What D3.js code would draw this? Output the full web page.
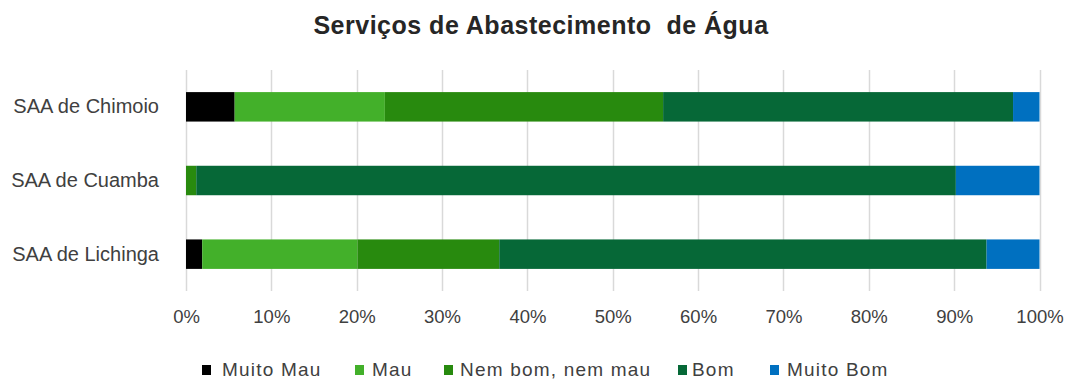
<!DOCTYPE html>
<html>
<head>
<meta charset="utf-8">
<script src="https://cdn.jsdelivr.net/npm/d3@7/dist/d3.min.js"></script>
<style>
  html, body { margin: 0; padding: 0; background: #fff; }
  svg text { font-family: "Liberation Sans", Arial, sans-serif; }
</style>
</head>
<body>
<svg id="chart" width="1068" height="383"></svg>
<script>
// Survey results per water supply system (percent of responses)
const categories = ["SAA de Chimoio", "SAA de Cuamba", "SAA de Lichinga"];
const seriesNames = ["Muito Mau", "Mau", "Nem bom, nem mau", "Bom", "Muito Bom"];
const muitoMau  = [5.7, 0.0, 1.9];
const mau       = [17.6, 0.0, 18.2];
const nemBom    = [32.6, 1.2, 16.6];
const bom       = [41.0, 89.0, 57.1];
const muitoBom  = [3.1, 9.8, 6.2];
const tickValues = [0, 10, 20, 30, 40, 50, 60, 70, 80, 90, 100];
const colors = ["#000000", "#43b02a", "#288a0e", "#066837", "#0070c0"];

const seriesValues = [muitoMau, mau, nemBom, bom, muitoBom];
const rows = categories.map((c, i) => {
  const r = { cat: c };
  seriesNames.forEach((s, k) => { r[s] = seriesValues[k][i]; });
  return r;
});

const svg = d3.select("#chart");
const margin = { left: 186, right: 28, top: 70, bottom: 92 };
const W = 1068, H = 383;
const textColor = "#404040";

const x = d3.scaleLinear().domain([0, 100]).range([margin.left, W - margin.right - 0.5]);
const y = d3.scaleBand().domain(categories).range([margin.top, H - margin.bottom]).paddingInner(0.6).paddingOuter(0.3);

// vertical gridlines
svg.append("g").selectAll("line").data(tickValues).join("line")
  .attr("x1", d => Math.round(x(d)) + 0.5).attr("x2", d => Math.round(x(d)) + 0.5)
  .attr("y1", margin.top).attr("y2", H - margin.bottom)
  .attr("stroke", "#d9d9d9").attr("stroke-width", 1.5);

// stacked bars
const stack = d3.stack().keys(seriesNames)(rows);
svg.append("g").selectAll("g").data(stack).join("g")
  .attr("fill", (d, i) => colors[i])
  .selectAll("rect").data(d => d).join("rect")
  .attr("x", d => x(d[0]))
  .attr("width", d => Math.max(0, x(d[1]) - x(d[0])))
  .attr("y", d => y(d.data.cat))
  .attr("height", y.bandwidth());

// x axis labels
const xAxis = d3.axisBottom(x).tickValues(tickValues).tickFormat(d => d + "%").tickSize(0).tickPadding(0);
const gx = svg.append("g").attr("transform", `translate(0, 310)`).call(xAxis);
gx.select(".domain").remove();
gx.selectAll("text").attr("font-size", 18.5).attr("fill", textColor)
  .style("font-family", '"Liberation Sans", Arial, sans-serif');

// y axis labels
const yAxis = d3.axisLeft(y).tickSize(0).tickPadding(27);
const gy = svg.append("g").attr("transform", `translate(${margin.left}, 0)`).call(yAxis);
gy.select(".domain").remove();
gy.selectAll("text").attr("font-size", 20).attr("fill", textColor)
  .style("font-family", '"Liberation Sans", Arial, sans-serif');

// title
svg.append("text").attr("x", 541).attr("y", 34).attr("text-anchor", "middle")
  .attr("font-size", 25).attr("font-weight", "bold").attr("fill", "#262626")
  .attr("letter-spacing", 0.5)
  .attr("xml:space", "preserve")
  .text("Serviços de Abastecimento  de Água");

// legend
const legendX = [202, 355, 444, 678, 770];
const legendTextX = [222, 372, 460, 692, 787];
const lg = svg.append("g").selectAll("g").data(seriesNames).join("g")
  .attr("transform", (d, i) => `translate(${legendX[i]}, 376)`);
lg.append("rect").attr("x", 0).attr("y", -11).attr("width", 9).attr("height", 10)
  .attr("fill", (d, i) => colors[i]);
lg.append("text").attr("x", (d, i) => legendTextX[i] - legendX[i]).attr("y", 0)
  .attr("font-size", 19).attr("letter-spacing", 1.2).attr("fill", textColor).text(d => d);
</script>
</body>
</html>
